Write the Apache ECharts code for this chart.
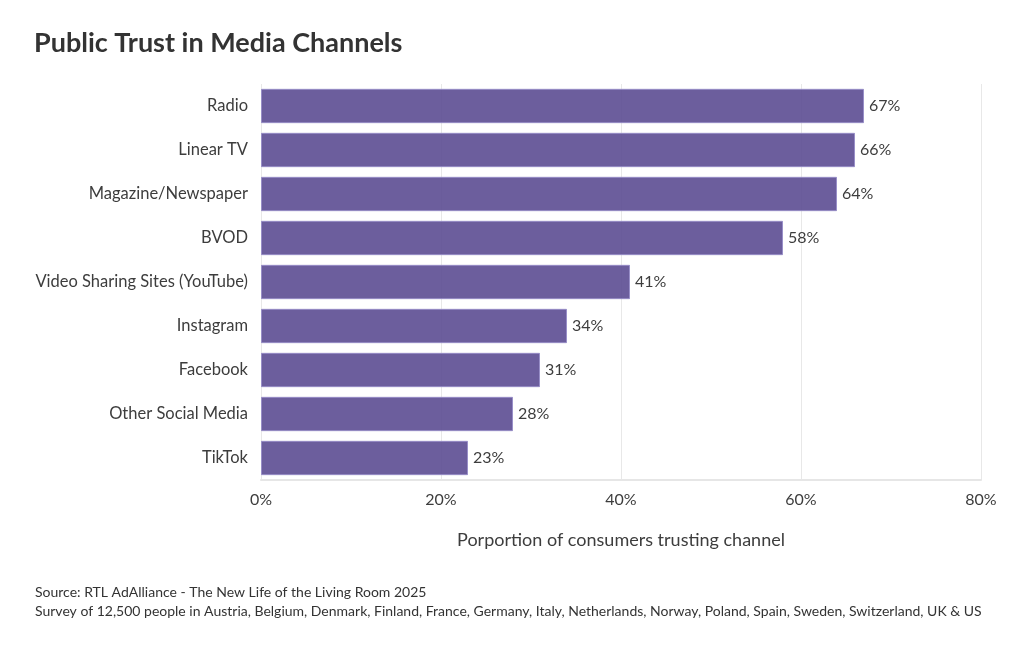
<!DOCTYPE html>
<html>
<head>
<meta charset="utf-8">
<script src="https://cdn.jsdelivr.net/npm/echarts@6/dist/echarts.min.js"></script>
<style>
  html, body { margin: 0; padding: 0; background: #fff; }
  #chart { width: 1024px; height: 647px; }
</style>
</head>
<body>
<div id="chart"></div>
<script>
// 数据（从上到下）
var channels = ['Radio', 'Linear TV', 'Magazine/Newspaper', 'BVOD', 'Video Sharing Sites (YouTube)', 'Instagram', 'Facebook', 'Other Social Media', 'TikTok'];
var trustPct = [67, 66, 64, 58, 41, 34, 31, 28, 23];
var xTicks = [0, 20, 40, 60, 80];

var font = 'Lato, "Open Sans", sans-serif';
var textColor = '#3d3d3d';

var chart = echarts.init(document.getElementById('chart'));
chart.setOption({
  animation: false,
  textStyle: { fontFamily: font },
  title: [
    { text: 'Public Trust in Media Channels', left: 29, top: 25, textStyle: { fontFamily: font, fontSize: 27, fontWeight: 'bold', color: '#333' } },
    { text: 'Source: RTL AdAlliance - The New Life of the Living Room 2025\nSurvey of 12,500 people in Austria, Belgium, Denmark, Finland, France, Germany, Italy, Netherlands, Norway, Poland, Spain, Sweden, Switzerland, UK & US',
      left: 30, top: 578, textStyle: { fontFamily: font, fontSize: 14, fontWeight: 'normal', color: '#333', lineHeight: 19 } }
  ],
  grid: { left: 261, right: 43, top: 84, bottom: 167 },
  xAxis: {
    type: 'value', min: xTicks[0], max: xTicks[xTicks.length - 1], interval: 20,
    name: 'Porportion of consumers trusting channel', nameLocation: 'middle', nameGap: 51,
    nameTextStyle: { fontSize: 18, color: textColor, fontFamily: font },
    axisLine: { show: true, lineStyle: { color: '#e6e6e6', width: 2 } },
    axisTick: { show: false },
    axisLabel: { formatter: '{value}%', fontSize: 16, color: textColor, margin: 12 },
    splitLine: { show: true, lineStyle: { color: '#e8e8e8', width: 1 } }
  },
  yAxis: {
    type: 'category', data: channels, inverse: true,
    axisLine: { show: false }, axisTick: { show: false },
    axisLabel: { fontSize: 16.5, color: textColor, margin: 13 }
  },
  series: [{
    type: 'bar', data: trustPct, barCategoryGap: '22%',
    itemStyle: { color: 'rgba(92, 76, 146, 0.9)', borderColor: 'rgba(150,140,200,0.9)', borderWidth: 1 },
    label: { show: true, position: 'right', formatter: '{c}%', fontSize: 16, color: textColor, distance: 5 }
  }]
});
</script>
</body>
</html>
